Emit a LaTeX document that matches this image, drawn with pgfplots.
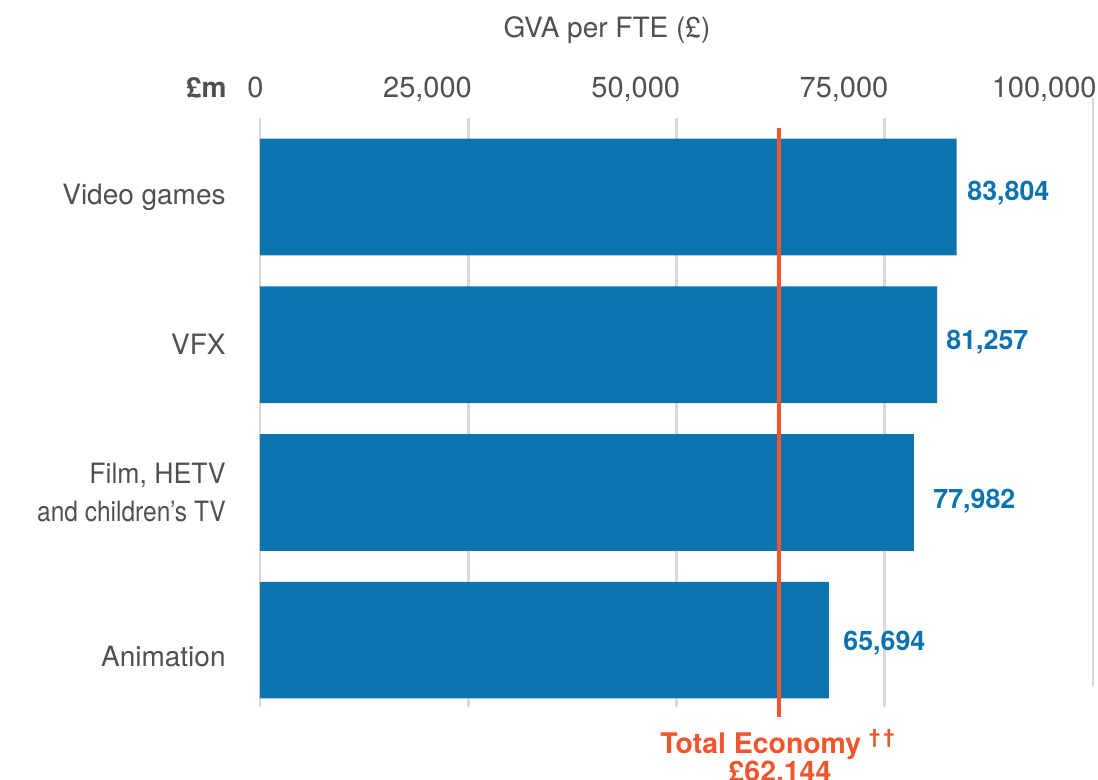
\documentclass[border=0pt]{standalone}
\usepackage{fontspec}
\setmainfont{TeX Gyre Heros}
\usepackage{pgfplots}
\usepackage{pgfplotstable}
\pgfplotsset{compat=1.18}

\definecolor{barblue}{RGB}{11,116,174}
\definecolor{ecored}{RGB}{240,85,45}
\definecolor{txtgray}{RGB}{80,80,80}
\definecolor{gridgray}{RGB}{217,217,217}

% bar lengths as drawn (categories from bottom: Animation=0 ... Video games=3)
\pgfplotstableread{
y x
3 83625
2 81273
1 78511
0 68307
}\gvadata

\begin{document}
\begin{tikzpicture}
\begin{axis}[
  set layers,
  scale only axis, width=416.5pt, height=294.5pt,
  xmin=0, xmax=100000, ymin=-0.453, ymax=3.535,
  axis line style={draw=none}, major tick length=0pt,
  scaled x ticks=false,
  xtick={0,25000,50000,75000,100000},
  xticklabels={0,{25,000},{50,000},{75,000},{100,000}},
  xticklabel pos=upper,
  xticklabel style={anchor=base east, inner sep=0pt, xshift=2pt, yshift=10.5pt,
    font=\fontsize{14.5}{17}\selectfont, text=txtgray},
  ytick={-0.108,1,2,3},
  yticklabels={Animation, {\scalebox{0.95}[1]{Film, HETV}\\\scalebox{0.875}[1]{and children’s TV}}, VFX, Video games},
  yticklabel style={anchor=east, inner sep=0pt, xshift=-17pt, align=right,
    font=\fontsize{14}{19}\selectfont, text=txtgray},
  clip=false,
]
% grid lines
\begin{pgfonlayer}{axis grid}
\draw[gridgray, line width=1.3pt]
  (axis cs:0,3.535) -- (axis cs:0,-0.453)
  (axis cs:25000,3.535) -- (axis cs:25000,-0.453)
  (axis cs:50000,3.535) -- (axis cs:50000,-0.453)
  (axis cs:75000,3.535) -- (axis cs:75000,-0.453)
  (axis cs:100000,3.670) -- (axis cs:100000,-0.318);
\end{pgfonlayer}

\addplot[xbar, bar width=0.79, fill=barblue, draw=none] table[x=x, y=y] {\gvadata};

% total economy
\addplot[ecored, line width=2pt] coordinates {(62305,3.467) (62305,-0.521)};

\node[anchor=base, font=\fontsize{14}{17}\selectfont, text=txtgray] at (axis cs:41657,4.083) {GVA per FTE (£)};
\node[anchor=base east, inner sep=0pt, font=\bfseries\fontsize{14}{17}\selectfont, text=txtgray] at (axis cs:-3962,3.677) {£m};

\begin{scope}[every node/.style={anchor=base west, inner sep=0pt, font=\bfseries\fontsize{13.4}{16}\selectfont, text=barblue}]
\node at (axis cs:84874,2.977) {83,804};
\node at (axis cs:82353,1.971) {81,257};
\node at (axis cs:80792,0.888) {77,982};
\node at (axis cs:69988,-0.067) {65,694};
\end{scope}

\node[anchor=base, font=\bfseries\fontsize{14.2}{17}\selectfont, text=ecored] at (axis cs:62185,-0.771) {Total Economy \textsuperscript{†\,†}};
\node[anchor=base, font=\bfseries\fontsize{14.2}{17}\selectfont, text=ecored] at (axis cs:62425,-0.955) {£62,144};

\coordinate (bbSW) at (axis cs:-31212,-0.947);
\coordinate (bbNE) at (axis cs:100600,4.334);
\end{axis}
\pgfresetboundingbox
\path[use as bounding box] (bbSW) rectangle (bbNE);
\end{tikzpicture}
\end{document}
